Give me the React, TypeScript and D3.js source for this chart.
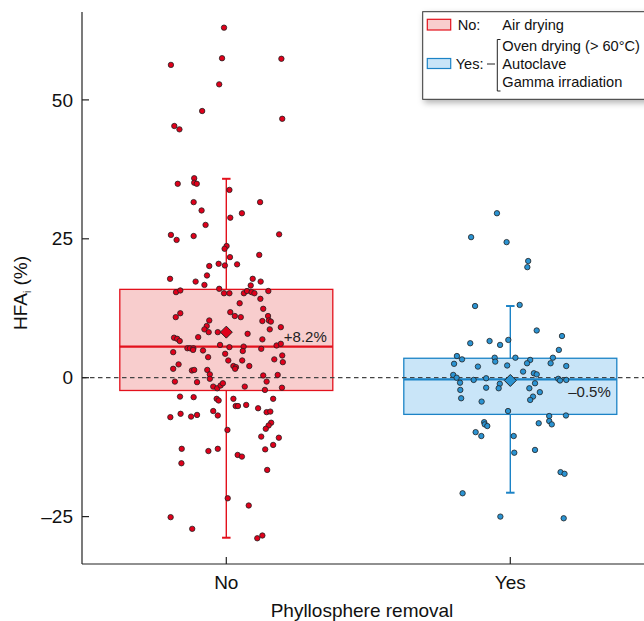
import { useEffect } from "react";
import * as d3 from "d3";

const categories = ["No", "Yes"];

// HFA values (%) and horizontal jitter (fraction of category step)
const noValues = [
  63.0, 56.3, 57.5, 57.4, 52.8, 48.0, 46.6, 45.3, 44.7, 35.9, 34.9, 35.1, 34.9, 33.8, 31.6, 31.6,
  30.1, 29.6, 28.8, 27.5, 25.7, 24.8, 25.5, 25.8, 23.7, 23.2, 21.7, 22.1, 20.5, 20.2, 20.4, 20.1,
  18.4, 17.8, 17.8, 17.3, 16.7, 16.0, 15.2, 15.2, 16.6, 17.3, 15.4, 15.7, 15.2, 15.6, 15.4, 15.2,
  15.6, 14.2, 13.4, 12.4, 11.8, 11.1, 10.9, 11.6, 10.9, 11.1, 10.3, 10.1, 10.2, 10.3, 9.3, 8.7,
  8.2, 8.2, 8.7, 9.1, 7.9, 7.3, 7.2, 7.0, 6.6, 6.9, 5.9, 5.5, 5.6, 4.8, 5.8, 6.1, 5.3, 5.3, 5.3,
  5.0, 4.9, 4.6, 5.2, 4.3, 3.7, 4.0, 3.3, 2.8, 2.4, 3.1, 3.1, 2.1, 1.9, 1.6, 2.1, 1.6, 1.3, 1.4,
  1.4, 0.6, 0.4, 0.5, -0.7, -0.8, -0.2, -0.7, -1.6, -1.9, -1.4, -1.0, -1.6, -2.2, -1.8, -3.4,
  -3.5, -3.8, -4.1, -3.8, -5.1, -5.1, -4.9, -5.5, -3.8, -6.0, -6.8, -7.1, -6.5, -7.0, -6.7, -6.2,
  -6.1, -8.1, -8.6, -9.2, -9.4, -10.6, -10.8, -12.1, -12.8, -13.2, -12.8, -13.9, -14.2, -12.9,
  -15.4, -16.6, -21.7, -23.0, -25.1, -27.2, -28.9, -28.4,
];
const noJitter = [
  -0.008, -0.195, -0.015, 0.194, -0.025, -0.085, 0.197, -0.183, -0.165, -0.113, -0.171, -0.113,
  -0.104, 0.011, -0.115, 0.119, -0.087, 0.055, 0.014, -0.073, -0.195, -0.175, -0.115, 0.186,
  0.001, -0.006, 0.013, 0.116, -0.027, -0.005, 0.038, -0.06, -0.068, -0.198, 0.093, -0.108,
  -0.077, -0.025, -0.008, 0.011, 0.086, 0.121, -0.177, -0.162, 0.062, 0.073, 0.089, 0.099, 0.148,
  0.12, 0.047, 0.13, 0.014, 0.03, 0.051, -0.162, -0.178, 0.147, 0.15, 0.157, 0.127, -0.06, -0.069,
  -0.077, -0.062, -0.03, 0.153, 0.192, 0.075, -0.099, -0.184, -0.173, -0.164, 0.127, -0.022,
  0.011, 0.061, 0.058, 0.177, 0.192, -0.137, -0.128, -0.116, -0.117, -0.082, -0.187, 0.123,
  -0.004, -0.064, 0.197, 0.169, 0.199, -0.168, 0.007, 0.056, 0.025, 0.034, 0.031, 0.081, -0.187,
  -0.121, -0.113, -0.067, -0.058, 0.13, 0.181, -0.181, -0.103, -0.058, 0.142, -0.046, -0.032,
  -0.02, -0.012, 0.065, 0.136, 0.196, -0.163, -0.115, -0.034, -0.027, 0.025, 0.033, 0.041, 0.07,
  0.112, 0.165, -0.046, -0.03, -0.197, -0.161, -0.124, -0.103, 0.142, 0.155, 0.158, 0.149, 0.139,
  0.004, 0.123, 0.185, 0.165, -0.157, -0.063, -0.03, 0.04, 0.055, 0.137, -0.158, 0.144, 0.005,
  0.079, -0.196, -0.12, 0.109, 0.127,
];
const yesValues = [
  29.6, 25.3, 24.4, 21.0, 19.9, 12.9, 13.1, 8.5, 7.5, 6.2, 6.6, 5.9, 6.8, 5.0, 3.9, 3.3, 3.6, 2.9,
  3.6, 3.2, 2.6, 3.6, 2.6, 2.5, 2.0, 2.2, 2.1, 1.1, 0.5, 0.0, -0.9, -0.4, -0.1, -1.1, -1.9, -1.8,
  0.8, 0.6, -1.0, -0.2, -0.5, -0.4, -2.2, -3.7, -1.9, -2.6, -3.4, -4.0, -4.3, -6.0, -6.8, -6.9,
  -7.8, -8.4, -8.2, -8.0, -8.4, -8.7, -9.8, -10.5, -10.5, -13.5, -13.0, -17.0, -17.3, -20.8,
  -25.0, -25.3,
];
const yesJitter = [
  -0.047, -0.138, -0.013, 0.063, 0.06, -0.124, 0.033, 0.093, 0.182, -0.141, -0.073, -0.036, -0.007,
  0.171, -0.188, -0.17, -0.055, -0.053, 0.018, 0.07, 0.059, 0.15, 0.142, -0.198, -0.114, -0.011,
  0.197, 0.045, -0.201, -0.189, -0.177, -0.129, -0.085, -0.037, -0.041, -0.085, 0.083, 0.093,
  0.087, 0.169, 0.175, 0.197, -0.176, -0.173, 0.067, 0.104, 0.08, 0.07, -0.101, -0.008, 0.196,
  0.137, 0.137, 0.146, 0.1, -0.092, -0.09, -0.081, -0.122, -0.102, 0.012, 0.014, 0.087, 0.177,
  0.191, -0.168, -0.035, 0.188,
];

// box summaries per category
const q1 = [-2.3, -6.6];
const medians = [5.6, -0.3];
const q3 = [15.9, 3.5];
const whiskerLow = [-28.8, -20.7];
const whiskerHigh = [35.8, 12.9];
const means = [8.2, -0.5];
const meanLabels = ["+8.2%", "\u20130.5%"];

const yTicks = [-25, 0, 25, 50];

const legendNo = "Air drying";
const legendYes = ["Oven drying (> 60\u00b0C)", "Autoclave", "Gamma irradiation"];

const STROKES = ["#e3111c", "#1c83c6"];
const FILLS = ["#f8cdcd", "#c9e5f8"];
const DOTS = ["#e0001b", "#2b93d2"];
const FONT = "'Liberation Sans', Arial, sans-serif";

export default function App() {
  useEffect(() => {
    document.body.style.margin = "0";
  }, []);

  const width = 644;
  const height = 621;
  const left = 82;
  const top = 12;
  const bottom = 564;

  const x = d3.scalePoint<string>().domain(categories).range([84.3, 652.3]).padding(0.5);
  const step = x.step();
  const y = d3.scaleLinear().domain([-33.53, 65.82]).range([bottom, top]);
  const boxW = step * 0.75;
  const capW = 8.5;

  const groups = [
    { values: noValues, jitter: noJitter },
    { values: yesValues, jitter: yesJitter },
  ];
  const labelDy = [9.5, 17];

  return (
    <svg width={width} height={height} style={{ display: "block", fontFamily: FONT }}>
      <defs>
        <filter id="shadow" x="-10%" y="-20%" width="130%" height="160%">
          <feDropShadow dx="2" dy="3" stdDeviation="3" floodColor="#000" floodOpacity="0.3" />
        </filter>
      </defs>

      {/* boxes */}
      {categories.map((c, i) => {
        const cx = x(c)!;
        return (
          <g key={c}>
            <rect
              x={cx - boxW / 2}
              y={y(q3[i])}
              width={boxW}
              height={y(q1[i]) - y(q3[i])}
              fill={FILLS[i]}
              stroke={STROKES[i]}
              strokeWidth={1.3}
            />
            <line x1={cx} x2={cx} y1={y(q3[i])} y2={y(whiskerHigh[i])} stroke={STROKES[i]} strokeWidth={1.4} />
            <line x1={cx} x2={cx} y1={y(q1[i])} y2={y(whiskerLow[i])} stroke={STROKES[i]} strokeWidth={1.4} />
            <line x1={cx - capW / 2} x2={cx + capW / 2} y1={y(whiskerHigh[i])} y2={y(whiskerHigh[i])} stroke={STROKES[i]} strokeWidth={2} />
            <line x1={cx - capW / 2} x2={cx + capW / 2} y1={y(whiskerLow[i])} y2={y(whiskerLow[i])} stroke={STROKES[i]} strokeWidth={2} />
          </g>
        );
      })}

      {/* zero line */}
      <line x1={left} x2={width} y1={y(0)} y2={y(0)} stroke="#444" strokeWidth={1.2} strokeDasharray="4.5 3.5" />

      {categories.map((c, i) => {
        const cx = x(c)!;
        return (
          <line key={c} x1={cx - boxW / 2} x2={cx + boxW / 2} y1={y(medians[i])} y2={y(medians[i])} stroke={STROKES[i]} strokeWidth={2.2} />
        );
      })}

      {/* points */}
      {groups.map((g, i) => (
        <g key={i}>
          {g.values.map((v, k) => (
            <circle
              key={k}
              cx={x(categories[i])! + g.jitter[k] * step}
              cy={y(v)}
              r={2.7}
              fill={DOTS[i]}
              stroke="#222"
              strokeWidth={0.8}
            />
          ))}
        </g>
      ))}

      {/* means */}
      {categories.map((c, i) => {
        const cx = x(c)!;
        const cy = y(means[i]);
        const d = 6;
        return (
          <g key={c}>
            <path
              d={`M${cx},${cy - d}L${cx + d},${cy}L${cx},${cy + d}L${cx - d},${cy}Z`}
              fill={DOTS[i]}
              stroke="#222"
              strokeWidth={1}
            />
            <text x={cx + boxW / 2 - 6} y={cy + labelDy[i]} textAnchor="end" fontSize={15} fill="#222">
              {meanLabels[i]}
            </text>
          </g>
        );
      })}

      {/* axes */}
      <line x1={left} x2={left} y1={top} y2={bottom} stroke="#222" strokeWidth={1.2} />
      <line x1={left} x2={width} y1={bottom} y2={bottom} stroke="#222" strokeWidth={1.2} />
      {yTicks.map((t) => (
        <g key={t}>
          <line x1={left} x2={left + 7} y1={y(t)} y2={y(t)} stroke="#222" strokeWidth={1.2} />
          <text x={left - 9} y={y(t)} dy="0.35em" textAnchor="end" fontSize={19} fill="#111">
            {t < 0 ? `\u2013${Math.abs(t)}` : t}
          </text>
        </g>
      ))}
      {categories.map((c) => (
        <g key={c}>
          <line x1={x(c)!} x2={x(c)!} y1={bottom} y2={bottom - 7} stroke="#222" strokeWidth={1.2} />
          <text x={x(c)!} y={589} textAnchor="middle" fontSize={19} fill="#111">
            {c}
          </text>
        </g>
      ))}
      <text x={362} y={617} textAnchor="middle" fontSize={19} fill="#111">
        Phyllosphere removal
      </text>
      <text transform="translate(27,293) rotate(-90)" textAnchor="middle" fontSize={19} fill="#111">
        HFA
        <tspan dy={4} fontSize={10}>
          i
        </tspan>
        <tspan dy={-4}> (%)</tspan>
      </text>

      {/* legend */}
      <g fontSize={14.6} fill="#111">
        <rect x={422.7} y={11.7} width={240} height={87.6} fill="#fff" stroke="#333" strokeWidth={1} filter="url(#shadow)" />
        <rect x={427.3} y={19.3} width={23.4} height={10.7} fill={FILLS[0]} stroke={STROKES[0]} strokeWidth={1.2} />
        <text x={457.7} y={29.6}>No:</text>
        <text x={502.3} y={29.6}>{legendNo}</text>
        <rect x={427.3} y={58.5} width={23.4} height={10} fill={FILLS[1]} stroke={STROKES[1]} strokeWidth={1.2} />
        <text x={455.7} y={68.8}>Yes:</text>
        <line x1={487} x2={495} y1={64} y2={64} stroke="#222" strokeWidth={1} />
        <path d="M500.5,39.5H497.3V91H500.5" fill="none" stroke="#222" strokeWidth={1} />
        {legendYes.map((t, k) => (
          <text key={t} x={502.3} y={50.6 + k * 18.2}>
            {t}
          </text>
        ))}
      </g>
    </svg>
  );
}
